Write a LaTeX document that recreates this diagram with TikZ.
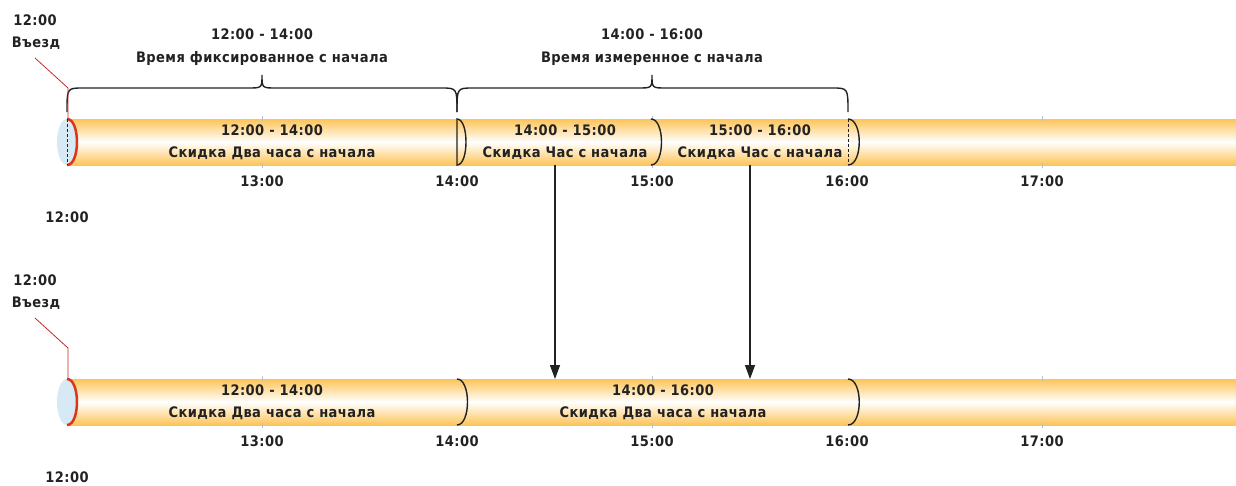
\documentclass[tikz,border=0pt]{standalone}
\usepackage{fontspec}
\setmainfont{DejaVu Sans Condensed}[LetterSpace=3]
\usetikzlibrary{arrows.meta}
\definecolor{barorange}{RGB}{253,196,88}
\definecolor{endblue}{RGB}{214,233,245}
\definecolor{endred}{RGB}{222,52,24}
\definecolor{callred}{RGB}{200,40,40}
\definecolor{ink}{RGB}{34,34,34}

\begin{document}
\begin{tikzpicture}[x=1pt, y=-1pt,
  lbl/.style={font=\fontsize{14.5}{23}\selectfont\bfseries, text=ink, inner sep=0pt, anchor=base},
  cut/.style={line width=1.4pt, ink},
  seam/.style={line width=.8pt, ink, dash pattern=on 3pt off 2pt},
  brc/.style={line width=1.4pt, ink},
  drop/.style={line width=1.4pt, ink, -{Triangle[width=10pt,length=14pt]}},
  hourtick/.style={line width=.6pt, black!25},
  callout/.style={line width=.8pt, callred}]
\useasboundingbox (0,0) rectangle (1236,485);

%% upper bar
\shade[top color=barorange, bottom color=barorange, middle color=white] (67,119) rectangle (1236,165);
\foreach \x in {262,652,1042} {
  \draw[hourtick] (\x,116) -- (\x,121);
  \draw[hourtick] (\x,163) -- (\x,168);
}
\fill[endblue] (67,142) ellipse [x radius=10, y radius=23];
\draw[line width=2.5pt, endred] (67,119) .. controls (80.3,119) and (80.3,165) .. (67,165);
\draw[seam] (67,119) -- (67,165);
\draw[cut] (457,119) .. controls (469,119) and (469,165) .. (457,165) -- cycle;
\draw[cut] (651,119) .. controls (665,119) and (665,165) .. (651,165);
\draw[cut] (848,119) .. controls (863,119) and (863,165) .. (848,165);
\draw[seam] (848,119) -- (848,165);

% braces
\draw[brc] (67,112) .. controls (67,88) .. (83,88) -- (248,88) .. controls (262,88) .. (262,75)
  .. controls (262,88) .. (276,88) -- (441,88) .. controls (457,88) .. (457,112);
\draw[brc] (457,112) .. controls (457,88) .. (473,88) -- (638,88) .. controls (652,88) .. (652,75)
  .. controls (652,88) .. (666,88) -- (832,88) .. controls (848,88) .. (848,112);
\node[lbl] (fixtime) at (262,39.5) {12:00 - 14:00};
\node[lbl] (fixname) at (262,62.5) {Время фиксированное с начала};
\node[lbl] (meastime) at (652,39.5) {14:00 - 16:00};
\node[lbl] (measname) at (652,62.5) {Время измеренное с начала};

\node[lbl] (in1time) at (35,25) {12:00};
\node[lbl] (in1) at (36,47.7) {Въезд};
\coordinate (in1foot) at (68,119);
\draw[callout] (35,58) -- (68,88) -- (in1foot);

\node[lbl] (s1time) at (272,135) {12:00 - 14:00};
\node[lbl] (s1name) at (272,157.5) {Скидка Два часа с начала};
\node[lbl] (s2time) at (565,135) {14:00 - 15:00};
\node[lbl] (s2name) at (565,157.5) {Скидка Час с начала};
\node[lbl] (s3time) at (760,135) {15:00 - 16:00};
\node[lbl] (s3name) at (760,157.5) {Скидка Час с начала};

\foreach \h [count=\i from 1] in {13,14,15,16,17}
  \node[lbl] (up\h) at (67+195*\i,186) {\h:00};
\node[lbl] (up12) at (67,222.7) {12:00};

%% lower bar
\shade[top color=barorange, bottom color=barorange, middle color=white] (67,379) rectangle (1236,425);
\foreach \x in {262,652,1042} {
  \draw[hourtick] (\x,376) -- (\x,381);
  \draw[hourtick] (\x,423) -- (\x,428);
}
\fill[endblue] (67,402) ellipse [x radius=10, y radius=23];
\draw[line width=2.5pt, endred] (67,379) .. controls (80.3,379) and (80.3,425) .. (67,425);
\draw[cut] (457,379) .. controls (471,379) and (471,425) .. (457,425);
\draw[cut] (848,379) .. controls (863,379) and (863,425) .. (848,425);

\node[lbl] (in2time) at (35,285) {12:00};
\node[lbl] (in2) at (36,307.7) {Въезд};
\coordinate (in2foot) at (68,379);
\draw[callout] (35,318) -- (68,348) -- (in2foot);

\node[lbl] (t1time) at (272,395) {12:00 - 14:00};
\node[lbl] (t1name) at (272,417.5) {Скидка Два часа с начала};
\node[lbl] (t2time) at (663,395) {14:00 - 16:00};
\node[lbl] (t2name) at (663,417.5) {Скидка Два часа с начала};

\foreach \h [count=\i from 1] in {13,14,15,16,17}
  \node[lbl] (lo\h) at (67+195*\i,446) {\h:00};
\node[lbl] (lo12) at (67,482.7) {12:00};

% merging arrows
\coordinate (m1top) at (555,165);
\coordinate (m1bot) at (555,379);
\coordinate (m2top) at (750,165);
\coordinate (m2bot) at (750,379);
\draw[drop] (m1top) -- (m1bot);
\draw[drop] (m2top) -- (m2bot);
\end{tikzpicture}
\end{document}
